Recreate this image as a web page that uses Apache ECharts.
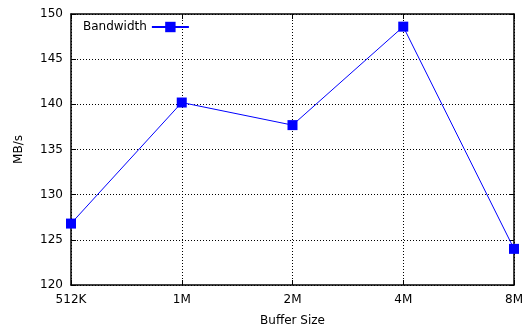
<!DOCTYPE html>
<html>
<head>
<meta charset="utf-8">
<script src="https://cdn.jsdelivr.net/npm/echarts@6/dist/echarts.min.js"></script>
<style>
    html, body { margin: 0; padding: 0; background: #fff; }
    #chart { width: 526px; height: 327px; }
</style>
</head>
<body>
<div id="chart"></div>
<script>
// 数据
const bufferSizes = ['512K', '1M', '2M', '4M', '8M'];
const bandwidth = [126.8, 140.2, 137.7, 148.6, 124.0];

const font = 'DejaVu Sans';

// 初始化图表
function initBandwidthChart() {
    const chart = echarts.init(document.getElementById('chart'));
    const gridLine = {
        show: true,
        lineStyle: { color: '#000', type: [1, 2], width: 1 }
    };
    const option = {
        animation: false,
        textStyle: { fontFamily: font },
        grid: { left: 71, right: 12, top: 14, bottom: 42, containLabel: false, outerBoundsMode: 'none' },
        legend: {
            left: 83,
            top: 21,
            padding: 0,
            align: 'right',
            itemWidth: 37,
            itemHeight: 13,
            itemGap: 7,
            textStyle: { fontFamily: font, fontSize: 12, color: '#000' },
            data: ['Bandwidth']
        },
        xAxis: [{
            type: 'category',
            data: bufferSizes,
            boundaryGap: false,
            name: 'Buffer Size',
            nameLocation: 'middle',
            nameGap: 30,
            nameTextStyle: { fontFamily: font, fontSize: 12, color: '#000' },
            axisLine: { show: true, lineStyle: { color: '#000', width: 1.5 } },
            axisTick: { show: true, inside: true, length: 5, lineStyle: { color: '#000' } },
            axisLabel: { fontFamily: font, fontSize: 12, color: '#000', margin: 9 },
            splitLine: gridLine
        }, {
            type: 'category',
            data: bufferSizes,
            boundaryGap: false,
            position: 'top',
            axisLine: { show: true, lineStyle: { color: '#000', width: 1.5 } },
            axisTick: { show: true, inside: true, length: 5, lineStyle: { color: '#000' } },
            axisLabel: { show: false },
            splitLine: { show: false }
        }],
        yAxis: [{
            type: 'value',
            min: 120,
            max: 150,
            interval: 5,
            name: 'MB/s',
            nameLocation: 'middle',
            nameGap: 46,
            nameTextStyle: { fontFamily: font, fontSize: 12, color: '#000' },
            axisLine: { show: true, lineStyle: { color: '#000', width: 1.5 } },
            axisTick: { show: true, inside: true, length: 5, lineStyle: { color: '#000' } },
            axisLabel: { fontFamily: font, fontSize: 12, color: '#000', margin: 8 },
            splitLine: gridLine
        }, {
            type: 'value',
            min: 120,
            max: 150,
            interval: 5,
            position: 'right',
            axisLine: { show: true, lineStyle: { color: '#000', width: 1.5 } },
            axisTick: { show: true, inside: true, length: 5, lineStyle: { color: '#000' } },
            axisLabel: { show: false },
            splitLine: { show: false }
        }],
        series: [{
            name: 'Bandwidth',
            type: 'line',
            data: bandwidth,
            symbol: 'rect',
            symbolSize: 10,
            lineStyle: { color: '#0000ff', width: 1 },
            itemStyle: { color: '#0000ff' }
        }]
    };
    chart.setOption(option);
}

initBandwidthChart();
</script>
</body>
</html>
